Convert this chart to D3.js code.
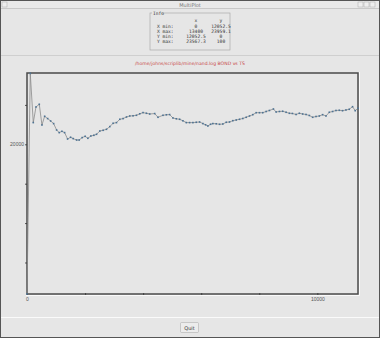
<!DOCTYPE html>
<meta charset="utf-8">
<style type="text/css">
body {
  margin: 0;
  background: #e6e6e6;
  font-family: "DejaVu Sans", sans-serif;
}
svg { display: block; }
.axis text { font-size: 5px; fill: #555; }
.info text { font-family: "DejaVu Sans Mono", monospace; font-size: 4.6px; fill: #333; }
</style>
<body></body>
<script src="https://d3js.org/d3.v7.min.js"></script>
<script>
// series (TS vs BOND)
var tsValues = [0, 113, 216, 309, 423, 515, 608, 711, 814, 917, 1020, 1110, 1203, 1295, 1398, 1501,
  1591, 1708, 1797, 1900, 2003, 2096, 2199, 2302, 2395, 2508, 2622, 2738, 2852, 2965, 3082, 3196,
  3309, 3426, 3539, 3652, 3769, 3883, 3996, 4113, 4226, 4398, 4511, 4683, 4800, 4913, 5027, 5143,
  5257, 5370, 5487, 5600, 5714, 5830, 5944, 6058, 6150, 6230, 6322, 6401, 6518, 6631, 6745, 6862,
  6975, 7089, 7206, 7319, 7432, 7549, 7663, 7776, 7893, 8006, 8119, 8236, 8349, 8487, 8580, 8694,
  8807, 8924, 9037, 9140, 9267, 9380, 9494, 9611, 9724, 9838, 9954, 10068, 10181, 10298, 10411,
  10525, 10641, 10755, 10868, 10985, 11098, 11212, 11304, 11397];
var bondValues = [12400, 23600, 21102, 21895, 22032, 20980, 21422, 21306, 21184, 21052, 20726, 20594,
  20660, 20594, 20269, 20356, 20290, 20218, 20218, 20340, 20406, 20305, 20422, 20457, 20508, 20676,
  20711, 20762, 20899, 21067, 21102, 21270, 21306, 21387, 21438, 21448, 21473, 21549, 21610, 21575,
  21539, 21560, 21372, 21473, 21499, 21509, 21336, 21296, 21270, 21194, 21102, 21102, 21102, 21118,
  21133, 21052, 20991, 20930, 21016, 21052, 21042, 21016, 21031, 21118, 21133, 21199, 21235, 21270,
  21311, 21372, 21438, 21504, 21605, 21605, 21605, 21666, 21717, 21793, 21641, 21666, 21677, 21626,
  21575, 21565, 21514, 21575, 21539, 21514, 21463, 21372, 21412, 21438, 21504, 21438, 21626, 21666,
  21717, 21727, 21707, 21743, 21778, 21910, 21707, 21829];

var xTicks = d3.range(0, 11400, 2000);
var yTicks = [14000, 16000, 18000, 20000, 22000];
var xLabels = [0, 10000];
var yLabels = [20000];

var infoCols = ["x", "y"];
var infoRows = ["X min:", "X max:", "Y min:", "Y max:"];
var infoX = ["0", "13400", "12052.5", "23567.3"];
var infoY = ["12052.5", "23959.1", "0", "100"];

var W = 380, H = 338;
var svg = d3.select("body").append("svg")
  .attr("width", W)
  .attr("height", H);

// window chrome
svg.append("rect").attr("x", 0.5).attr("y", 0.5).attr("width", W - 1).attr("height", H - 1)
  .attr("fill", "#e6e6e6").attr("stroke", "#555");
svg.append("rect").attr("x", 1).attr("y", 1).attr("width", W - 2).attr("height", 7)
  .attr("fill", "#e9e9e9");
svg.append("line").attr("x1", 1).attr("x2", W - 1).attr("y1", 8.5).attr("y2", 8.5)
  .attr("stroke", "#c8c8c8");
svg.append("text").attr("x", 190).attr("y", 6.5).attr("text-anchor", "middle")
  .style("font-size", "5px").style("fill", "#777").text("MultiPlot");
[358, 364, 370].forEach(function(x) {
  svg.append("rect").attr("x", x).attr("y", 2).attr("width", 5).attr("height", 5)
    .attr("fill", "#eee").attr("stroke", "#aaa").attr("stroke-width", 0.5);
});
svg.append("rect").attr("x", 2).attr("y", 2).attr("width", 5).attr("height", 5)
  .attr("fill", "#eee").attr("stroke", "#aaa").attr("stroke-width", 0.5);

// info group box
var info = svg.append("g").attr("class", "info");
info.append("rect").attr("x", 150).attr("y", 13).attr("width", 80).attr("height", 37)
  .attr("fill", "none").attr("stroke", "#aaa").attr("stroke-width", 0.7);
info.append("rect").attr("x", 152).attr("y", 10).attr("width", 9).attr("height", 5).attr("fill", "#e6e6e6");
info.append("text").attr("x", 153).attr("y", 14.5).text("Info");
info.selectAll(".hdr").data(infoCols).enter().append("text")
  .attr("x", function(d, i) { return i ? 221 : 196; })
  .attr("y", 22).attr("text-anchor", "middle").text(function(d) { return d; });
info.selectAll(".row").data(infoRows).enter().append("text")
  .attr("x", 157).attr("y", function(d, i) { return 28 + i * 5; })
  .text(function(d) { return d; });
info.selectAll(".cx").data(infoX).enter().append("text")
  .attr("x", 196).attr("y", function(d, i) { return 28 + i * 5; })
  .attr("text-anchor", "middle").text(function(d) { return d; });
info.selectAll(".cy").data(infoY).enter().append("text")
  .attr("x", 221).attr("y", function(d, i) { return 28 + i * 5; })
  .attr("text-anchor", "middle").text(function(d) { return d; });

svg.append("line").attr("x1", 1).attr("x2", W - 1).attr("y1", 55.5).attr("y2", 55.5)
  .attr("stroke", "#cfcfcf");

// title
svg.append("text").attr("x", 190).attr("y", 65).attr("text-anchor", "middle")
  .style("font-size", "4.6px").style("fill", "#c84848")
  .text("/home/johns/scriplib/mine/nand.log BOND vs TS");

// plot
var x0 = 27, x1 = 358, y0 = 73, y1 = 294;
var xscale = d3.scaleLinear().domain([0, 11400]).range([x0, x1]);
var yscale = d3.scaleLinear().domain([12400, 23620]).range([y1, y0]);

// frame
svg.append("rect").attr("x", x0).attr("y", y0).attr("width", x1 - x0).attr("height", y1 - y0)
  .attr("fill", "none").attr("stroke", "#4a4a4a").attr("stroke-width", 1.5);
svg.append("path").attr("d", "M" + (x1 + 1.5) + "," + (y0 - 1) + "V" + (y1 + 1.5) + "H" + (x0 - 1))
  .attr("fill", "none").attr("stroke", "#fff").attr("stroke-width", 0.8);

var xAxis = d3.axisBottom(xscale).tickValues(xTicks).tickSize(2).tickPadding(1)
  .tickFormat(function(d) { return xLabels.indexOf(d) >= 0 ? d : ""; });
var yAxis = d3.axisLeft(yscale).tickValues(yTicks).tickSize(2).tickPadding(1)
  .tickFormat(function(d) { return yLabels.indexOf(d) >= 0 ? d : ""; });

var gx = svg.append("g").attr("class", "x axis")
  .attr("transform", "translate(0," + y1 + ")").call(xAxis);
var gy = svg.append("g").attr("class", "y axis")
  .attr("transform", "translate(" + x0 + ",0)").call(yAxis);
svg.selectAll(".axis .domain").remove();
svg.selectAll(".axis line").attr("stroke", "#333").attr("stroke-width", 0.8);
gx.selectAll("line").attr("y2", 2).attr("transform", "translate(0,-1)");

var pts = tsValues.map(function(d, i) { return [d, bondValues[i]]; });

svg.append("path").datum(pts)
  .attr("fill", "none").attr("stroke", "#8a8a8a").attr("stroke-width", 0.8)
  .attr("d", d3.line().x(function(d) { return xscale(d[0]); }).y(function(d) { return yscale(d[1]); }));

svg.selectAll(".pt").data(pts).enter().append("rect")
  .attr("class", "pt")
  .attr("x", function(d) { return xscale(d[0]) - 0.8; })
  .attr("y", function(d) { return yscale(d[1]) - 0.8; })
  .attr("width", 1.6).attr("height", 1.6)
  .attr("fill", "#4d7394");

// bottom bar with Quit button
svg.append("line").attr("x1", 1).attr("x2", W - 1).attr("y1", 317.5).attr("y2", 317.5)
  .attr("stroke", "#fafafa");
svg.append("rect").attr("x", 180.5).attr("y", 322.5).attr("width", 18).attr("height", 10)
  .attr("rx", 1).attr("fill", "#ececec").attr("stroke", "#b0b0b0").attr("stroke-width", 0.6);
svg.append("text").attr("x", 189.5).attr("y", 329.5).attr("text-anchor", "middle")
  .style("font-size", "5px").style("fill", "#333").text("Quit");
</script>
